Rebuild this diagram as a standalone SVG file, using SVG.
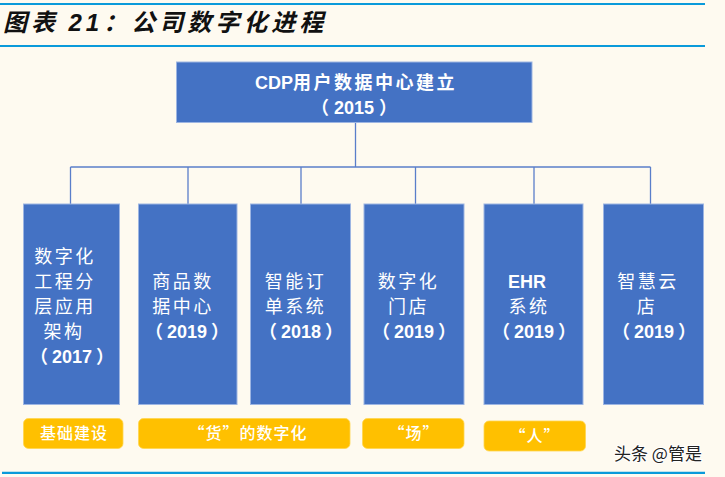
<svg xmlns="http://www.w3.org/2000/svg" width="725" height="477" viewBox="0 0 725 477">
<style>
.bg{fill:#FEFAF0}
.rule{stroke:#0A9ADA;stroke-width:2.2}
.node{fill:#4472C4;stroke:#9DB5E2;stroke-width:1}
.tag{fill:#FFC000;stroke:#FFD54F;stroke-width:0.8}
.conn{stroke:#5A7ECA;stroke-width:1.3;fill:none}
.cjk{font-family:"Noto Sans CJK SC","Noto Sans",sans-serif;fill:#FFFFFF;font-size:18px;text-anchor:middle;letter-spacing:2.5px}
.num{font-family:"Liberation Sans","Noto Sans CJK SC",sans-serif;font-weight:bold;fill:#FFFFFF;font-size:18px;text-anchor:middle}
.tagt{font-family:"Noto Sans CJK SC","Noto Sans",sans-serif;font-weight:500;fill:#FFFFFF;font-size:16px;text-anchor:middle;letter-spacing:1px}
.title{font-family:"Noto Sans CJK SC","Noto Sans",sans-serif;font-weight:bold;font-style:italic;font-size:24px;fill:#111111}
</style>
<rect class="bg" x="0" y="0" width="725" height="477"/>
<line class="rule" x1="0" y1="4" x2="705" y2="4"/>
<line class="rule" x1="0" y1="46" x2="705" y2="46"/>
<line class="rule" x1="2" y1="472.8" x2="705" y2="472.8"/>
<g id="title">
<text class="title" x="3" y="31" letter-spacing="4">图表 <tspan font-family="Liberation Sans, sans-serif">21</tspan>：公司数字化进程</text>
</g>
<g id="connectors">
<line class="conn" x1="355.5" y1="122" x2="355.5" y2="167"/>
<line class="conn" x1="70.5" y1="167" x2="650.5" y2="167"/>
<line class="conn" x1="70.5" y1="167" x2="70.5" y2="204"/>
<line class="conn" x1="188" y1="167" x2="188" y2="204"/>
<line class="conn" x1="301" y1="167" x2="301" y2="204"/>
<line class="conn" x1="415.5" y1="167" x2="415.5" y2="204"/>
<line class="conn" x1="534" y1="167" x2="534" y2="204"/>
<line class="conn" x1="650.5" y1="167" x2="650.5" y2="204"/>
</g>
<g id="root">
<rect class="node" x="176.5" y="62" width="355.5" height="60.5"/>
<text class="cjk" x="356" y="88.5" font-weight="bold" font-size="19" letter-spacing="3"><tspan font-family="Liberation Sans, sans-serif" letter-spacing="0">CDP</tspan>用户数据中心建立</text>
<text class="num" x="354" y="113.5" font-size="19">（<tspan dx="5">2015</tspan><tspan dx="5">）</tspan></text>
</g>
<g id="n1">
<rect class="node" x="23.5" y="204" width="96" height="200.5"/>
<text class="cjk" x="65" y="263">数字化</text>
<text class="cjk" x="65" y="288">工程分</text>
<text class="cjk" x="65" y="313">层应用</text>
<text class="cjk" x="64" y="338">架构</text>
<text class="num" x="72" y="363">（<tspan dx="4">2017</tspan><tspan dx="4">）</tspan></text>
</g>
<g id="n2">
<rect class="node" x="138.5" y="204" width="98.5" height="200.5"/>
<text class="cjk" x="183" y="288">商品数</text>
<text class="cjk" x="183" y="313">据中心</text>
<text class="num" x="187" y="338">（<tspan dx="4">2019</tspan><tspan dx="4">）</tspan></text>
</g>
<g id="n3">
<rect class="node" x="250.5" y="204" width="100" height="200.5"/>
<text class="cjk" x="295.5" y="288">智能订</text>
<text class="cjk" x="295.5" y="313">单系统</text>
<text class="num" x="301" y="338">（<tspan dx="4">2018</tspan><tspan dx="4">）</tspan></text>
</g>
<g id="n4">
<rect class="node" x="364" y="204" width="100" height="200.5"/>
<text class="cjk" x="408.5" y="288">数字化</text>
<text class="cjk" x="408.5" y="313">门店</text>
<text class="num" x="414" y="338">（<tspan dx="4">2019</tspan><tspan dx="4">）</tspan></text>
</g>
<g id="n5">
<rect class="node" x="484" y="204" width="99" height="200.5"/>
<text class="num" x="527" y="288" font-size="19">EHR</text>
<text class="cjk" x="529" y="313">系统</text>
<text class="num" x="534" y="338">（<tspan dx="4">2019</tspan><tspan dx="4">）</tspan></text>
</g>
<g id="n6">
<rect class="node" x="603.5" y="204" width="100" height="200.5"/>
<text class="cjk" x="648" y="288">智慧云</text>
<text class="cjk" x="647" y="313">店</text>
<text class="num" x="654" y="338">（<tspan dx="4">2019</tspan><tspan dx="4">）</tspan></text>
</g>
<g id="t1">
<rect class="tag" x="23.5" y="418.5" width="99.5" height="30" rx="5"/>
<text class="tagt" x="74" y="439">基础建设</text>
</g>
<g id="t2">
<rect class="tag" x="138.5" y="418.5" width="211.5" height="30" rx="5"/>
<text class="tagt" x="248" y="439">“货”的数字化</text>
</g>
<g id="t3">
<rect class="tag" x="362.5" y="418.5" width="101.5" height="30" rx="5"/>
<text class="tagt" x="414" y="439">“场”</text>
</g>
<g id="t4">
<rect class="tag" x="484" y="421" width="101.5" height="30" rx="5"/>
<text class="tagt" x="535" y="441.5">“人”</text>
</g>
<g id="watermark">
<text x="614" y="460" font-family="Noto Sans CJK SC, sans-serif" font-size="17" fill="#222222" stroke="#FFFFFF" stroke-width="2" paint-order="stroke">头条 @管是</text>
</g>
</svg>
